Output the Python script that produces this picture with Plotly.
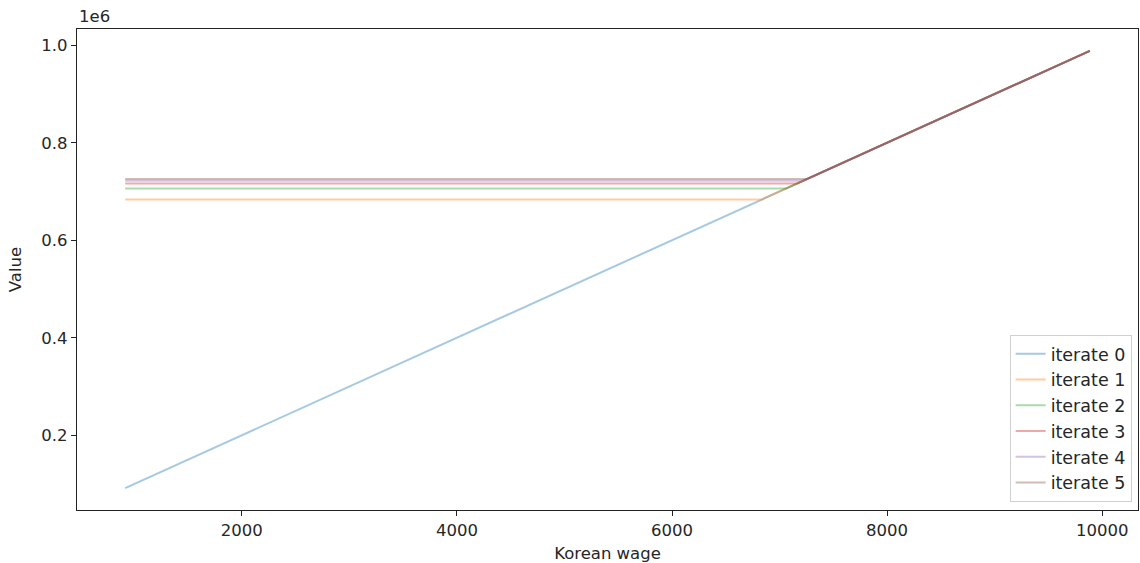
import plotly.graph_objects as go

# Data
wage_min = 915
wage_max = 9885
value_at_min = 91500
value_at_max = 988500

iterates = ["iterate 0", "iterate 1", "iterate 2", "iterate 3", "iterate 4", "iterate 5"]
flat_values = [None, 683500, 706000, 716500, 722000, 725500]   # reservation value levels
kink_wages = [None, 6835, 7060, 7165, 7220, 7255]

y_tickvals = [200000, 400000, 600000, 800000, 1000000]
y_ticktext = ["0.2", "0.4", "0.6", "0.8", "1.0"]
x_tickvals = [2000, 4000, 6000, 8000, 10000]
x_ticktext = ["2000", "4000", "6000", "8000", "10000"]

colors = ["rgba(31,119,180,0.4)", "rgba(255,127,14,0.4)", "rgba(44,160,44,0.4)",
          "rgba(214,39,40,0.4)", "rgba(148,103,189,0.4)", "rgba(140,86,75,0.4)"]

fig = go.Figure()
for i, name in enumerate(iterates):
    if flat_values[i] is None:
        xs = [wage_min, wage_max]
        ys = [value_at_min, value_at_max]
    else:
        xs = [wage_min, kink_wages[i], wage_max]
        ys = [flat_values[i], flat_values[i], value_at_max]
    fig.add_trace(go.Scatter(x=xs, y=ys, mode="lines", name=name,
                             line=dict(color=colors[i], width=2)))

font = "DejaVu Sans, Arial, sans-serif"
fig.update_layout(
    width=1140, height=563,
    paper_bgcolor="white", plot_bgcolor="white",
    margin=dict(l=77, r=2, t=29, b=53, autoexpand=False),
    font=dict(family=font, size=16.5, color="#262626"),
    xaxis=dict(range=[467, 10333], tickvals=x_tickvals, ticktext=x_ticktext,
               ticks="outside", ticklen=5, automargin=False,
               tickcolor="#222", showline=True, linecolor="#222", linewidth=1.2,
               mirror=True, showgrid=False, zeroline=False,
               title=dict(text="Korean wage", font=dict(size=16.5))),
    yaxis=dict(range=[46650, 1033350], tickvals=y_tickvals, ticktext=y_ticktext,
               ticks="outside", ticklen=5, tickcolor="#222", showline=True,
               automargin=False,
               linecolor="#222", linewidth=1.2, mirror=True, showgrid=False,
               zeroline=False, title=dict(text="Value", font=dict(size=16.5))),
    legend=dict(x=0.994, y=0.017, xanchor="right", yanchor="bottom",
                bordercolor="#d0d0d0", borderwidth=1, bgcolor="rgba(255,255,255,0.8)",
                font=dict(size=17.5), tracegroupgap=0),
    showlegend=True,
)
fig.add_annotation(text="1e6", xref="paper", yref="paper", x=0, y=1, xanchor="left",
                   yanchor="bottom", showarrow=False, font=dict(size=16.5), yshift=1)

fig.write_html("out.html", config={"displayModeBar": False},
               post_script="document.body.style.margin='0';document.body.style.overflow='hidden';")
